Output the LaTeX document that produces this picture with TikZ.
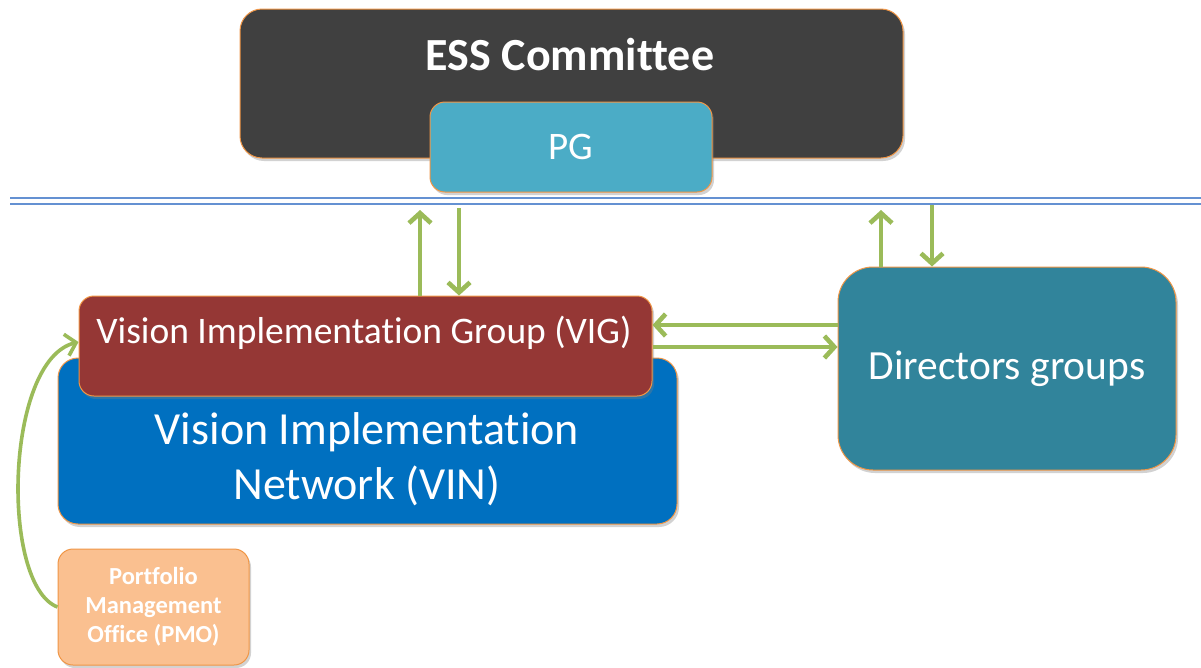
\documentclass[tikz,border=0pt]{standalone}
\usepackage{fontspec}
\setmainfont{Carlito}[Ligatures={NoCommon}]
\usetikzlibrary{arrows.meta,shadows,calc}
\definecolor{essgray}{RGB}{64,64,64}
\definecolor{pgblue}{RGB}{75,172,198}
\definecolor{vigred}{RGB}{149,55,53}
\definecolor{vinblue}{RGB}{0,112,192}
\definecolor{dirteal}{RGB}{49,132,155}
\definecolor{pmopeach}{RGB}{250,192,144}
\definecolor{edgeorange}{RGB}{240,150,70}
\definecolor{arrowgreen}{RGB}{155,187,89}
\definecolor{sepblue}{RGB}{100,145,210}
\begin{document}
\begin{tikzpicture}[x=1pt,y=-1pt,
  box/.style={draw=edgeorange, line width=1pt, inner sep=0pt,
    drop shadow={opacity=0.35, shadow xshift=2pt, shadow yshift=-3pt}},
  boxtext/.style={text=white, align=center, inner sep=0pt},
  flow/.style={draw=arrowgreen, line width=4.6pt,
    -{Straight Barb[length=10pt,width=22pt]}}]
\useasboundingbox[fill=white] (0,0) rectangle (1201,667);

% top committee
\node[box, fill=essgray, rounded corners=22pt, minimum width=663pt, minimum height=149pt] (ess) at (571.5,83.5) {};
\node[boxtext, font=\bfseries\fontsize{46}{54}\selectfont] (essT) at (570,55) {ESS Committee};
\node[box, fill=pgblue, rounded corners=15pt, minimum width=282pt, minimum height=90pt, text=white, font=\fontsize{39}{44}\selectfont] (pg) at (571,147) {PG};

% separator
\draw[sepblue, line width=1.8pt] (10,198) -- (1201,198);
\draw[sepblue, line width=1.8pt] (10,204) -- (1201,204);

% VIN and VIG
\node[box, fill=vinblue, rounded corners=20pt, minimum width=619pt, minimum height=166pt] (vin) at (367.5,441) {};
\node[boxtext, font=\fontsize{46}{55}\selectfont] (vinT) at (367,459) {Vision Implementation\\Network (VIN)};
\node[box, fill=vigred, rounded corners=15pt, minimum width=573pt, minimum height=100pt] (vig) at (365.5,346) {};
\node[boxtext, font=\fontsize{37.5}{43}\selectfont] (vigT) at (364,333) {Vision Implementation Group (VIG)};

% directors
\node[box, fill=dirteal, rounded corners=35pt, minimum width=338pt, minimum height=203pt, text=white, font=\fontsize{41.5}{49}\selectfont] (dir) at (1007,368.5) {Directors groups};

% PMO
\node[box, fill=pmopeach, rounded corners=15pt, minimum width=191pt, minimum height=116pt, text=white, align=center, font=\bfseries\fontsize{24.5}{29}\selectfont] (pmo) at (153.5,607) {Portfolio\\Management\\Office (PMO)};

% connector anchors
\coordinate (upA) at (420,210);
\coordinate (dnA) at (459,208);
\coordinate (upB) at (881,210);
\coordinate (dnB) at (932,205);
\coordinate (rowA) at (700,325);
\coordinate (rowB) at (700,347);

\draw[flow] (vig.north -| upA) -- (upA);
\draw[flow] (dnA) -- (vig.north -| dnA);
\draw[flow] (dir.north -| upB) -- (upB);
\draw[flow] (dnB) -- (dir.north -| dnB);
\draw[flow] (dir.west |- rowA) -- (vig.east |- rowA);
\draw[flow] (vig.east |- rowB) -- (dir.west |- rowB);
\draw[flow, line width=3.6pt] (pmo.west) .. controls (0,585) and (5,360) .. ($(vig.west)+(0,-4)$);
\end{tikzpicture}
\end{document}
